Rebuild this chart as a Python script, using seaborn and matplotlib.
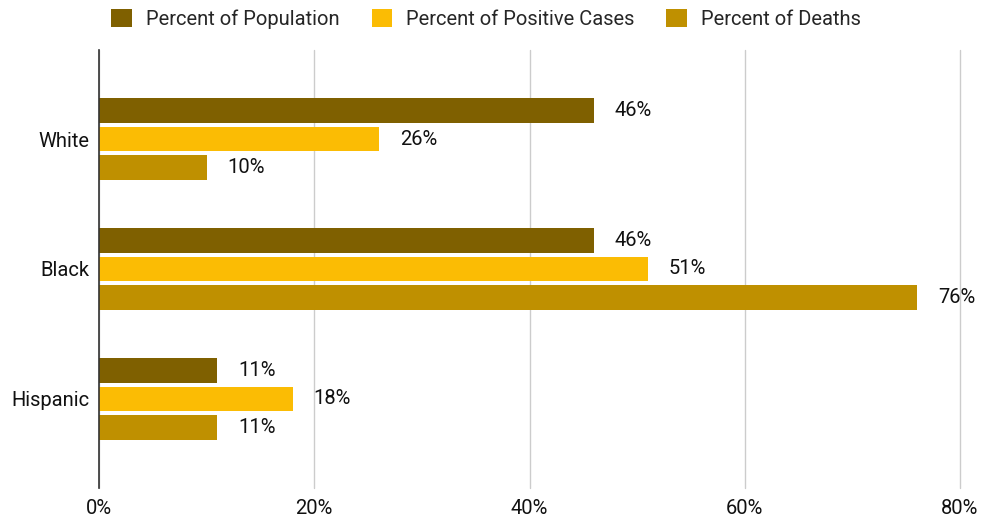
import pandas as pd
import matplotlib.pyplot as plt
import seaborn as sns
from matplotlib.ticker import FuncFormatter

groups = ['White', 'Black', 'Hispanic']
series = ['Percent of Population', 'Percent of Positive Cases', 'Percent of Deaths']
population = [46, 46, 11]
positive_cases = [26, 51, 18]
deaths = [10, 76, 11]
colors = ['#7f6000', '#fbbc04', '#bf9000']

df = pd.DataFrame({
    'group': groups * 3,
    'series': [s for s in series for _ in groups],
    'value': population + positive_cases + deaths,
})

sns.set_style('white')
plt.rcParams['font.family'] = ['Roboto', 'DejaVu Sans']
fs = 14.5

fig = plt.figure(figsize=(9.82, 5.19), dpi=100)
ax = fig.add_axes([99 / 982, 31 / 519, (960 - 99) / 982, (488 - 50) / 519])

sns.barplot(data=df, y='group', x='value', hue='series', order=groups,
            hue_order=series, palette=colors, orient='h', width=0.66, gap=0.13,
            saturation=1, linewidth=0, ax=ax, legend=True)

for cont in ax.containers:
    ax.bar_label(cont, labels=[f'{v:.0f}%' for v in cont.datavalues],
                 padding=15, fontsize=fs, color='#111111')

ax.set_xlim(0, 80)
ax.set_ylim(2.685, -0.685)
ax.set_xticks([0, 20, 40, 60, 80])
ax.xaxis.set_major_formatter(FuncFormatter(lambda v, p: f'{v:.0f}%'))
ax.grid(axis='x', color='#cccccc', linewidth=1)
for gl in ax.get_xgridlines():
    gl.set_clip_on(False)
ax.set_axisbelow(True)
ax.set_xlabel('')
ax.set_ylabel('')
ax.tick_params(axis='both', length=0, labelsize=fs, labelcolor='#111111')
ax.tick_params(axis='x', pad=8)
ax.tick_params(axis='y', pad=7)
for side in ['top', 'right', 'bottom']:
    ax.spines[side].set_visible(False)
ax.spines['left'].set_color('#333333')
ax.spines['left'].set_linewidth(1.2)

ax.legend(loc='center', bbox_to_anchor=(486 / 982, 1 - 19 / 519),
          bbox_transform=fig.transFigure, ncol=3, frameon=False,
          fontsize=fs, handlelength=1.0, handleheight=1.0, columnspacing=1.6,
          handletextpad=0.7, borderaxespad=0)

fig.savefig('out.png', dpi=100)
